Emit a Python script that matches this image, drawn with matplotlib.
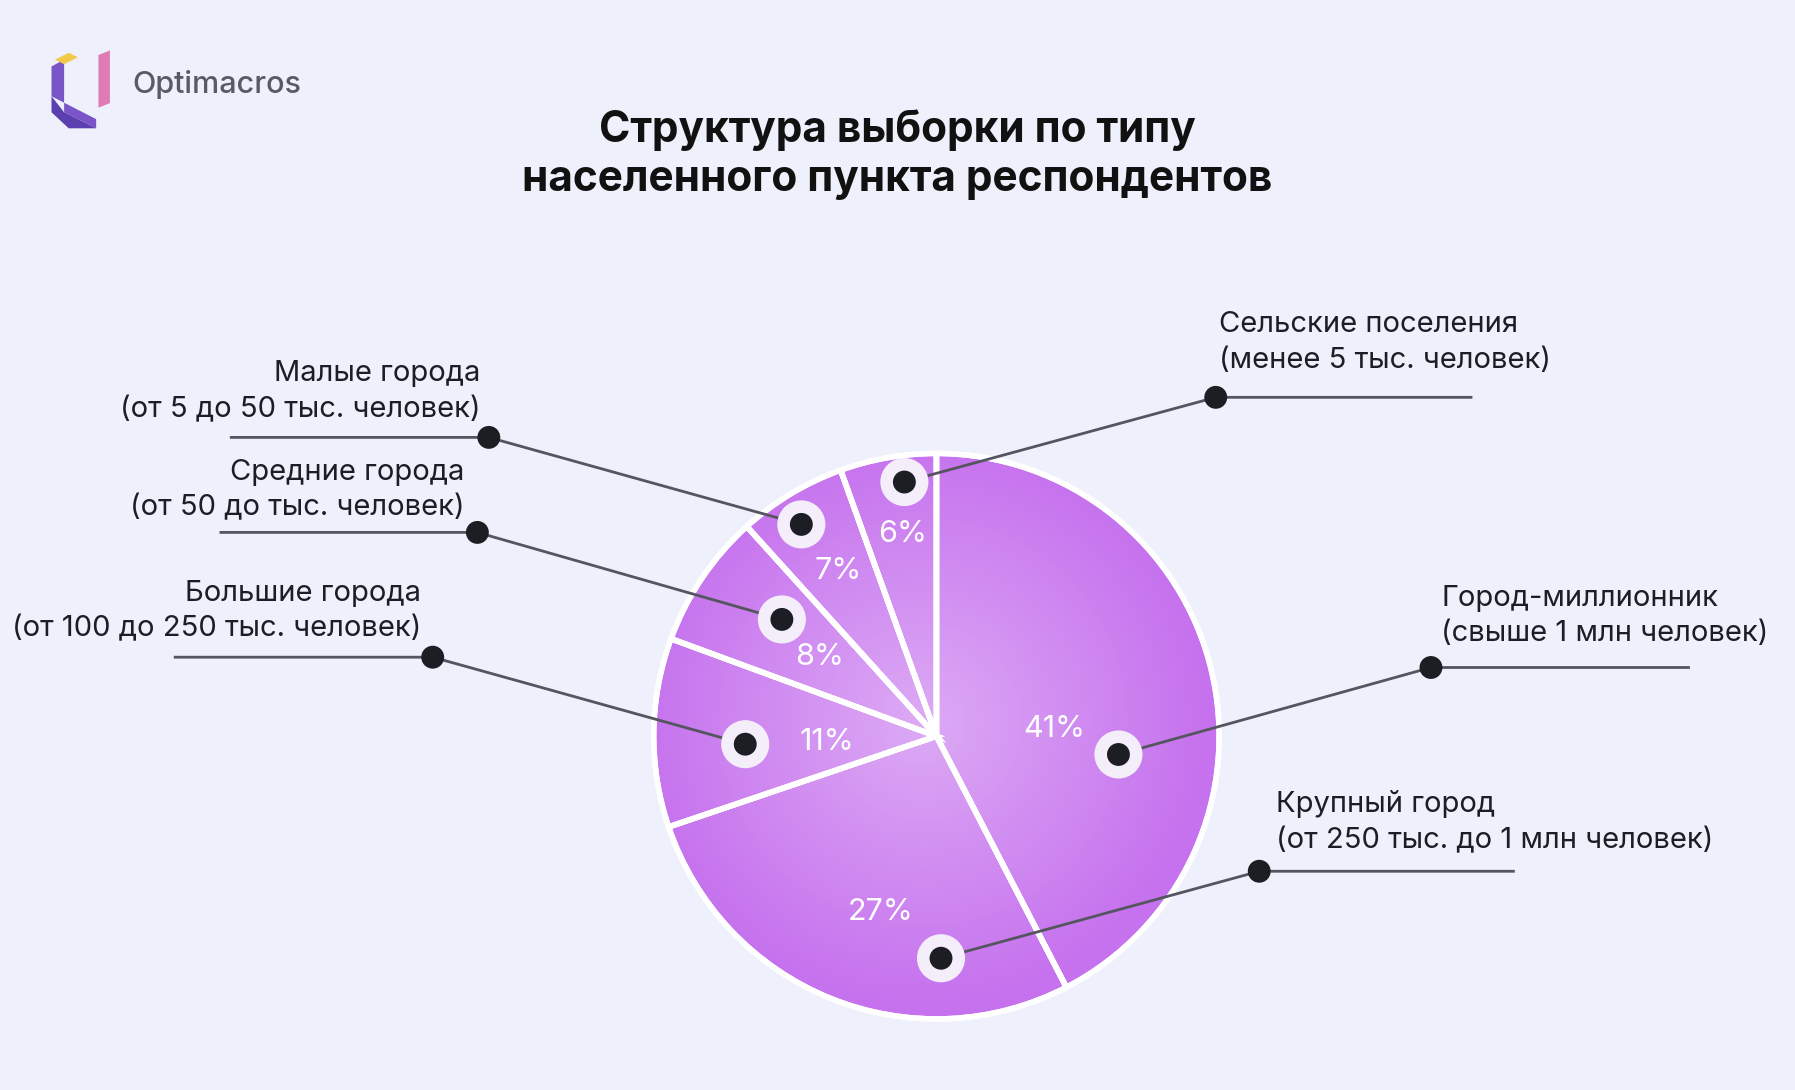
import numpy as np
import matplotlib
matplotlib.use("Agg")
import matplotlib.pyplot as plt
from matplotlib.patches import Circle, Polygon, Wedge

# data (slice sizes as drawn in the picture; labels as printed)
shares = [42.4, 27.4, 10.8, 7.7, 6.2, 5.5]
pct_labels = ["41%", "27%", "11%", "8%", "7%", "6%"]
names = [
    "Город-миллионник\n(свыше 1 млн человек)",
    "Крупный город\n(от 250 тыс. до 1 млн человек)",
    "Большие города\n(от 100 до 250 тыс. человек)",
    "Средние города\n(от 50 до тыс. человек)",
    "Малые города\n(от 5 до 50 тыс. человек)",
    "Сельские поселения\n(менее 5 тыс. человек)",
]

W, H = 1568, 952
BG = "#eef0fb"
PIE = "#c672ee"

fig = plt.figure(figsize=(17.95, 10.9), dpi=100, facecolor=BG)
ax = fig.add_axes([0, 0, 1, 1])
Y = lambda y: H - y   # image-y -> data-y

cx, cy, r = 818, Y(643), 247
wedges, _ = ax.pie(shares, center=(cx, cy), radius=r, startangle=90, counterclock=False,
                   colors=[PIE] * 6, wedgeprops=dict(edgecolor="white", linewidth=4), frame=True)

# soft radial highlight
n = 400
gx, gy = np.meshgrid(np.linspace(-1, 1, n), np.linspace(-1, 1, n))
d = np.sqrt((gx + 0.05) ** 2 + (gy + 0.05) ** 2)
rgba = np.ones((n, n, 4)); rgba[..., 3] = np.clip(0.4 * (1 - d), 0, 0.4)
im = ax.imshow(rgba, extent=(cx - r, cx + r, cy - r, cy + r), zorder=2)
im.set_clip_path(Circle((cx, cy), r, transform=ax.transData))
for w in wedges:
    w.set_zorder(1)
    ax.add_patch(Wedge(w.center, w.r, w.theta1, w.theta2, fc="none", ec="white", lw=4, zorder=3))

ax.set_xlim(0, W); ax.set_ylim(0, H)
ax.set_aspect("equal"); ax.axis("off")

pct_pos = [(921, 637), (769, 797), (722, 648), (716, 574), (732, 499), (788, 466)]
for (px, py), t in zip(pct_pos, pct_labels):
    ax.text(px, Y(py), t, color="white", fontsize=22, ha="center", va="center",
            family="Inter", zorder=5)

# leader lines: inner dot, outer dot, horizontal end, text anchor
inner = [(977, 659), (822, 837), (651, 650), (683, 541), (700, 458), (790, 421)]
outer = [(1250, 583), (1100, 761), (378, 574), (417, 465), (427, 382), (1062, 347)]
hend = [1475, 1322, 153, 193, 202, 1285]
txt = [(1259, 538, "left"), (1115, 718, "left"), (368, 534, "right"),
       (406, 428, "right"), (420, 342, "right"), (1065, 299, "left")]

for i in range(6):
    (ix, iy), (ox, oy) = inner[i], outer[i]
    ax.plot([ix, ox, hend[i]], [Y(iy), Y(oy), Y(oy)], color="#555560", lw=2, zorder=4)
    ax.add_patch(Circle((ix, Y(iy)), 21, fc="#f4eefa", ec="none", zorder=6))
    ax.add_patch(Circle((ix, Y(iy)), 10, fc="#1d1d24", ec="none", zorder=7))
    ax.add_patch(Circle((ox, Y(oy)), 10, fc="#1d1d24", ec="none", zorder=7))
    tx, ty, ha = txt[i]
    ax.text(tx, Y(ty), names[i], fontsize=21, ha=ha, va="center", color="#1d1d24",
            family="Inter", linespacing=1.4, zorder=5)

ax.text(784, Y(135), "Структура выборки по типу\nнаселенного пункта респондентов",
        fontsize=30.5, weight="bold", ha="center", va="center", color="#111111",
        family="Inter", linespacing=1.25)

# logo
ax.add_patch(Polygon([(45, Y(58)), (56, Y(52)), (56, Y(98)), (84, Y(112)), (84, Y(104)), (45, Y(84))],
                     closed=True, fc="#7a55c8", ec="none"))
ax.add_patch(Polygon([(45, Y(84)), (45, Y(98)), (60, Y(112)), (84, Y(112)), (56, Y(98))],
                     closed=True, fc="#5b3fb0", ec="none"))
ax.add_patch(Polygon([(86, Y(48)), (96, Y(44)), (96, Y(90)), (86, Y(94))], closed=True,
                     fc="#e07bb6", ec="none"))
ax.add_patch(Polygon([(48, Y(52)), (60, Y(46)), (68, Y(50)), (56, Y(56))], closed=True,
                     fc="#f3c94a", ec="none"))
ax.text(116, Y(74), "Optimacros", fontsize=22, ha="left", va="center", color="#5a5a66",
        family="Inter", weight="medium")

fig.savefig("out.png", dpi=100, facecolor=BG)
